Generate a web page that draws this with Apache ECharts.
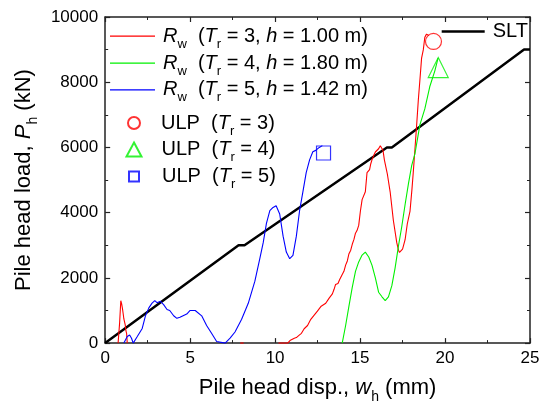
<!DOCTYPE html>
<html>
<head>
<meta charset="utf-8">
<script src="https://cdn.jsdelivr.net/npm/echarts@6/dist/echarts.min.js"></script>
<style>
  html, body { margin: 0; padding: 0; background: #fff; }
  #chart { width: 548px; height: 409px; }
</style>
</head>
<body>
<div id="chart"></div>
<script>
// Static load test line (SLT): [disp mm, load kN]
const sltCurve = [[0,0],[7.85,3000],[8.2,3000],[16.58,6000],[16.87,6000],[24.65,9000],[25,9000]];

// Rw curves, Tr = 3 / 4 / 5
const rwTr3 = [[0.76,0],[0.85,620],[0.92,1300],[0.97,1200],[1.02,1050],[1.06,900],[1.1,740],[1.14,760],[1.18,560],[1.22,380],[1.26,300],[1.3,0],null,
  [7.95,0],[8.05,60],[8.15,0],null,
  [10.2,0],[10.74,0],[10.9,90],[11.0,60],[11.13,150],[11.25,170],[11.42,245],[11.55,300],[11.71,440],[11.8,420],[11.91,540],[12.0,600],[12.1,730],[12.2,700],[12.3,860],[12.49,980],[12.6,1020],[12.69,1120],[12.8,1100],[12.98,1220],[13.08,1250],[13.17,1370],[13.27,1400],[13.37,1510],[13.47,1650],[13.56,1800],[13.7,1830],[13.8,1950],[13.95,2100],[14.05,2200],[14.15,2390],[14.25,2520],[14.34,2730],[14.45,2850],[14.54,3030],[14.64,3180],[14.73,3370],[14.82,3450],[14.92,3610],[15.02,4050],[15.12,4400],[15.21,4450],[15.31,4640],[15.41,5230],[15.5,5280],[15.56,5320],[15.63,5500],[15.7,5620],[15.8,5750],[15.9,5860],[16.0,5900],[16.09,5960],[16.19,6055],[16.27,5980],[16.35,5910],[16.43,5620],[16.5,5570],[16.6,5200],[16.77,4640],[16.96,3760],[17.16,3080],[17.26,2850],[17.32,2780],[17.4,2760],[17.5,2880],[17.65,3170],[17.78,3660],[17.94,4050],[18.05,4700],[18.13,5230],[18.23,5950],[18.33,6690],[18.43,7470],[18.52,8060],[18.62,8740],[18.72,8990],[18.81,9380],[18.91,9475],[19.0,9480],[19.05,9430]];

const rwTr4 = [[13.95,0],[14.15,540],[14.34,1120],[14.54,1710],[14.73,2200],[14.92,2490],[15.12,2700],[15.31,2790],[15.41,2760],[15.51,2640],[15.7,2390],[15.9,2000],[16.09,1560],[16.29,1420],[16.48,1300],[16.58,1330],[16.67,1420],[16.87,1760],[17.06,2300],[17.26,2980],[17.45,3560],[17.65,4250],[17.85,4900],[18.04,5450],[18.23,5810],[18.52,6690],[18.81,7180],[19.1,7860],[19.4,8350],[19.59,8740]];

const rwTr5 = [[1.1,0],[1.3,200],[1.44,250],[1.55,150],[1.65,0],[1.75,60],[1.89,200],[2.0,230],[2.18,450],[2.37,835],[2.57,1080],[2.76,1225],[2.92,1300],[3.05,1240],[3.15,1260],[3.25,1280],[3.44,1180],[3.64,1030],[3.8,1000],[4.03,840],[4.22,760],[4.4,790],[4.51,785],[4.8,890],[5.0,1000],[5.1,1030],[5.3,1000],[5.39,980],[5.68,835],[5.97,540],[6.26,300],[6.56,50],[6.65,0],[7.06,0],[7.35,150],[7.64,340],[8.03,730],[8.42,1220],[8.81,1900],[9.1,2590],[9.3,3080],[9.49,3670],[9.69,4060],[9.88,4160],[10.06,4210],[10.27,3960],[10.47,3280],[10.66,2790],[10.86,2590],[10.95,2600],[11.05,2690],[11.25,3280],[11.44,4060],[11.64,4650],[11.83,5230],[12.03,5620],[12.22,5870],[12.39,5910],[12.6,6000],[12.78,6055]];

// Ultimate lateral load points
const ulpTr3 = [[19.32, 9250]];
const ulpTr4 = [[19.6, 8450]];
const ulpTr5 = [[12.85, 5830]];

// Axis ticks
const xTicks = { min: 0, max: 25, step: 5 };
const yTicks = { min: 0, max: 10000, step: 2000 };

const FONT = 'Liberation Sans, Arial, sans-serif';
const AXIS_COLOR = '#222';
const RED = '#ff0000', GREEN = '#00f000', BLUE = '#0000ff';

const rich = {
  i: { fontStyle: 'italic', fontSize: 20, lineHeight: 24, fontFamily: FONT, color: '#000' },
  s: { fontSize: 13, lineHeight: 8, padding: [16, 0, 0, 0], fontFamily: FONT, color: '#000' }
};

const legendText = {
  'Rw3': '{i|R}{s|w}  ({i|T}{s|r} = 3, {i|h} = 1.00 m)',
  'Rw4': '{i|R}{s|w}  ({i|T}{s|r} = 4, {i|h} = 1.80 m)',
  'Rw5': '{i|R}{s|w}  ({i|T}{s|r} = 5, {i|h} = 1.42 m)',
  'ULP3': 'ULP  ({i|T}{s|r} = 3)',
  'ULP4': 'ULP  ({i|T}{s|r} = 4)',
  'ULP5': 'ULP  ({i|T}{s|r} = 5)',
  'SLT': 'SLT'
};

function baseAxis(pos, t, showLabel) {
  return {
    type: 'value', position: pos, min: t.min, max: t.max, interval: t.step,
    axisLine: { show: true, onZero: false, lineStyle: { color: AXIS_COLOR, width: 1.5 } },
    axisTick: { show: true, inside: true, length: 5, lineStyle: { color: AXIS_COLOR, width: 1.2 } },
    minorTick: { show: true, splitNumber: 2, length: 3, lineStyle: { color: AXIS_COLOR, width: 1 } },
    splitLine: { show: false },
    axisLabel: { show: showLabel, fontSize: 17, color: '#000', fontFamily: FONT, margin: 7,
      formatter: v => String(v) }
  };
}

// one legend block per row so every row sits at its own height
function legendAt(left, top, w, h, pad, item) {
  return {
    orient: 'vertical', selectedMode: false, left: left, top: top,
    itemWidth: w, itemHeight: h, itemGap: 0, padding: 0,
    formatter: name => legendText[name],
    data: [item],
    textStyle: { fontSize: 20, lineHeight: 24, color: '#000', fontFamily: FONT,
      padding: [0, 0, 0, pad], rich: rich }
  };
}

const titleRich = { i: { fontStyle: 'italic', fontSize: 22, lineHeight: 26, fontFamily: FONT }, s: { fontSize: 14, lineHeight: 8, padding: [18, 0, 0, 0], fontFamily: FONT } };

const xBottom = baseAxis('bottom', xTicks, true);
xBottom.name = 'Pile head disp., {i|w}{s|h} (mm)';
xBottom.nameLocation = 'middle';
xBottom.nameGap = 29;
xBottom.nameTextStyle = { fontSize: 22, lineHeight: 26, color: '#000', fontFamily: FONT, rich: titleRich };

const yLeft = baseAxis('left', yTicks, true);
yLeft.name = 'Pile head load, {i|P}{s|h} (kN)';
yLeft.nameLocation = 'middle';
yLeft.nameGap = 51;
yLeft.nameTextStyle = { fontSize: 22, lineHeight: 26, color: '#000', fontFamily: FONT, rich: titleRich };

const lineIcon = 'path://M0,0H45V1.2H0Z';

const chart = echarts.init(document.getElementById('chart'), null, { renderer: 'canvas' });
chart.setOption({
  animation: false,
  backgroundColor: '#fff',
  grid: { left: 102.7, right: 18, top: 17, bottom: 50.7, containLabel: false },
  xAxis: [xBottom, baseAxis('top', xTicks, false)],
  yAxis: [yLeft, baseAxis('right', yTicks, false)],
  legend: [
    legendAt(110, 21.7, 45, 14, 3, { name: 'Rw3', icon: lineIcon }),
    legendAt(110, 48.7, 45, 14, 3, { name: 'Rw4', icon: lineIcon }),
    legendAt(110, 75.3, 45, 14, 3, { name: 'Rw5', icon: lineIcon }),
    legendAt(127, 108.5, 12, 12, 16, { name: 'ULP3', icon: 'circle' }),
    legendAt(125.5, 135, 15, 14, 15, { name: 'ULP4', icon: 'triangle' }),
    legendAt(128, 162, 10, 10, 18, { name: 'ULP5', icon: 'rect' }),
    legendAt(441.7, 19.4, 43, 14, 3, { name: 'SLT', icon: 'path://M0,0H43V2.5H0Z' })
  ],
  series: [
    { name: 'SLT', type: 'line', data: sltCurve, symbol: 'none', lineStyle: { color: '#000', width: 2.5 }, itemStyle: { color: '#000' } },
    { name: 'Rw3', type: 'line', data: rwTr3, symbol: 'none', connectNulls: false, lineStyle: { color: RED, width: 1.1 }, itemStyle: { color: RED } },
    { name: 'Rw4', type: 'line', data: rwTr4, symbol: 'none', lineStyle: { color: GREEN, width: 1.1 }, itemStyle: { color: GREEN } },
    { name: 'Rw5', type: 'line', data: rwTr5, symbol: 'none', lineStyle: { color: BLUE, width: 1.1 }, itemStyle: { color: BLUE } },
    { name: 'ULP3', type: 'scatter', data: ulpTr3, symbol: 'circle', symbolSize: 16,
      itemStyle: { color: 'rgba(255,255,255,0)', borderColor: RED, borderWidth: 1.2 } },
    { name: 'ULP4', type: 'scatter', data: ulpTr4, symbol: 'triangle', symbolSize: [20, 20],
      itemStyle: { color: 'rgba(255,255,255,0)', borderColor: GREEN, borderWidth: 1.2 } },
    { name: 'ULP5', type: 'scatter', data: ulpTr5, symbol: 'rect', symbolSize: 14,
      itemStyle: { color: 'rgba(255,255,255,0)', borderColor: BLUE, borderWidth: 1.2 } }
  ]
});
</script>
</body>
</html>
